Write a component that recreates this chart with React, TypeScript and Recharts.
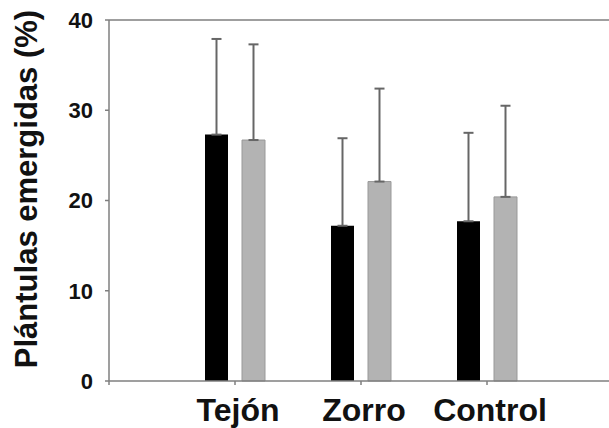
import {
  Bar,
  BarChart,
  ErrorBar,
  ReferenceLine,
  XAxis,
  YAxis,
} from "recharts";

// Treatment groups, left to right. Tick 0 is the empty origin tick.
const tickLabels = ["", "Tejón", "Zorro", "Control"];
const groups = ["Tejón", "Zorro", "Control"];

// Mean emerged seedlings (%) and upper error (SD) per group
const blackMeans = [27.3, 17.2, 17.7];
const blackErrors = [10.6, 9.7, 9.8];
const greyMeans = [26.7, 22.1, 20.4];
const greyErrors = [10.6, 10.3, 10.1];

const yTicks = [0, 10, 20, 30, 40];

const font = "'Liberation Sans', Arial, sans-serif";
const axisGrey = "#7f7f7f";

const rows = groups.map((name, i) => ({
  name,
  pos: i + 1,
  black: blackMeans[i],
  blackErr: [0, blackErrors[i]],
  grey: greyMeans[i],
  greyErr: [0, greyErrors[i]],
}));

function YLabel() {
  return (
    <text
      x={37}
      y={189}
      transform="rotate(-90, 37, 189)"
      textAnchor="middle"
      fontFamily={font}
      fontWeight="bold"
      fontSize={31}
      fill="#111"
    >
      Plántulas emergidas (%)
    </text>
  );
}

export default function App() {
  return (
    <div style={{ position: "absolute", left: 0, top: 0, width: 609, height: 428, overflow: "hidden", background: "#fff" }}>
      <BarChart
        width={613}
        height={428}
        data={rows}
        margin={{ top: 20, right: 0, bottom: 0, left: 0 }}
        barSize={23}
        barGap={14}
      >
        <XAxis
          dataKey="pos"
          type="number"
          domain={[0, 4]}
          ticks={[0, 1, 2, 3]}
          tickFormatter={(v: number) => tickLabels[v] ?? ""}
          height={47}
          tickSize={4}
          tickMargin={13}
          stroke={axisGrey}
          strokeWidth={1.5}
          tick={{ fill: "#111", fontFamily: font, fontWeight: "bold", fontSize: 32, dx: 3 }}
          allowDecimals={false}
        />
        <YAxis
          width={109}
          domain={[0, 40]}
          ticks={yTicks}
          tickSize={4}
          tickMargin={12}
          stroke={axisGrey}
          strokeWidth={1.5}
          tick={{ fill: "#111", fontFamily: font, fontWeight: "bold", fontSize: 22 }}
          label={<YLabel />}
        />
        <ReferenceLine y={40} stroke={axisGrey} strokeWidth={1.5} />
        <Bar dataKey="black" fill="#000" isAnimationActive={false}>
          <ErrorBar dataKey="blackErr" direction="y" width={5} stroke="#666" strokeWidth={2} />
        </Bar>
        <Bar dataKey="grey" fill="#b3b3b3" stroke="#999" strokeWidth={1} isAnimationActive={false}>
          <ErrorBar dataKey="greyErr" direction="y" width={5} stroke="#666" strokeWidth={2} />
        </Bar>
      </BarChart>
    </div>
  );
}
